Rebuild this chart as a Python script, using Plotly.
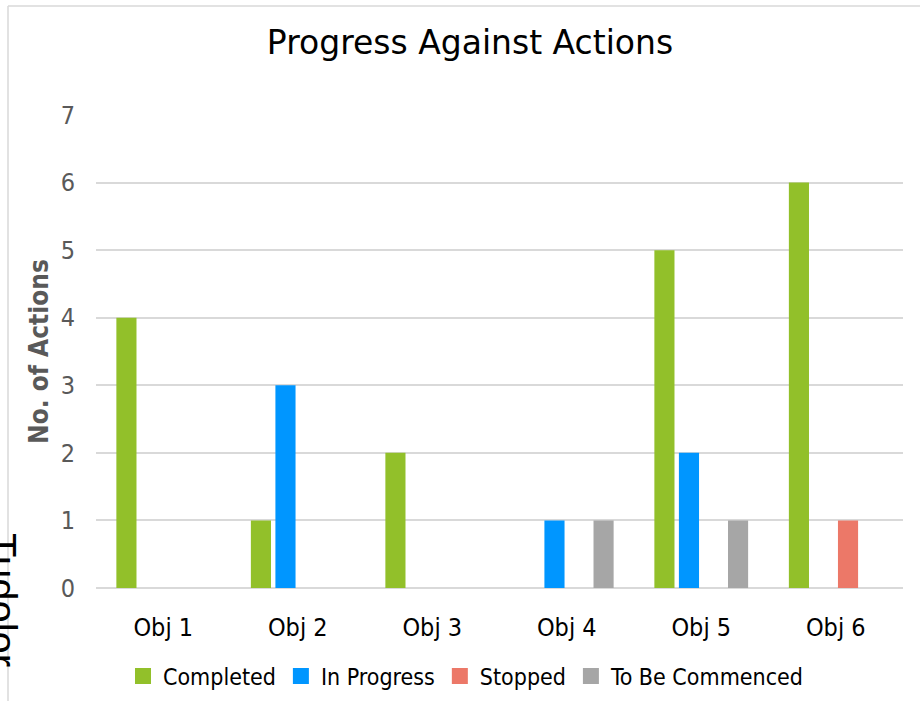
import plotly.graph_objects as go

categories = ["Obj 1", "Obj 2", "Obj 3", "Obj 4", "Obj 5", "Obj 6"]
completed = [4, 1, 2, 0, 5, 6]
in_progress = [0, 3, 0, 1, 2, 0]
stopped = [0, 0, 0, 0, 0, 1]
to_be_commenced = [0, 0, 0, 1, 1, 0]
y_ticks = [0, 1, 2, 3, 4, 5, 6, 7]

series = [
    ("Completed", completed, "#92C02A"),
    ("In Progress", in_progress, "#0096FF"),
    ("Stopped", stopped, "#EC7868"),
    ("To Be Commenced", to_be_commenced, "#A6A6A6"),
]

W, H = 920, 701
L, R, T, B = 96, 17, 115, 113
PW, PH = W - L - R, H - T - B
COND = "DejaVu Sans Condensed, DejaVu Sans"

def px(x):
    return (x - L) / PW

def py(y):
    return (H - B - y) / PH

fig = go.Figure()
for name, vals, color in series:
    fig.add_trace(go.Bar(x=categories, y=vals, name=name, marker_color=color,
                         marker_line_width=0, showlegend=False, legendgroup=name))
# legend entries (square swatches)
for name, vals, color in series:
    fig.add_trace(go.Scatter(x=[None], y=[None], mode="markers", name=name,
                             legendgroup=name,
                             marker=dict(symbol="square", size=16, color=color)))

fig.update_layout(
    width=W, height=H,
    margin=dict(l=L, r=R, t=T, b=B, autoexpand=False),
    paper_bgcolor="white", plot_bgcolor="white",
    barmode="group", bargap=0.27, bargroupgap=0.18,
    font=dict(family=COND, color="#000000"),
    title=dict(text="Progress Against Actions", x=470 / W, xanchor="center",
               y=1 - 42 / H, yanchor="middle",
               font=dict(size=33, color="#000000", family="DejaVu Sans")),
    showlegend=True,
    legend=dict(orientation="h", x=px(466), xanchor="center", xref="paper",
                y=py(676), yanchor="middle",
                font=dict(size=23, color="#000000", family=COND),
                itemwidth=30, traceorder="normal"),
    xaxis=dict(showgrid=False, showline=False, ticks="", automargin=False,
               tickfont=dict(size=25, color="#000000", family=COND),
               ticklabelstandoff=22),
    yaxis=dict(range=[0, 7], tickvals=y_ticks, showgrid=True, gridcolor="#D9D9D9",
               gridwidth=1.5, zeroline=True, zerolinecolor="#D9D9D9", zerolinewidth=1.5,
               showline=False, ticks="", automargin=False,
               tickfont=dict(size=25, color="#595959", family=COND),
               ticklabelstandoff=20,
               title=dict(text="<b>No. of Actions</b>", standoff=4,
                          font=dict(size=26, color="#595959", family=COND))),
)

# outer border (chart area edges)
fig.add_shape(type="line", xref="paper", yref="paper", x0=px(8), x1=px(8),
              y0=py(6), y1=py(H + 5), line=dict(color="#D9D9D9", width=1.5))
fig.add_shape(type="line", xref="paper", yref="paper", x0=px(8), x1=px(W + 5),
              y0=py(6), y1=py(6), line=dict(color="#D9D9D9", width=1.5))

# partially visible rotated text at the left edge
fig.add_annotation(text="Tudolor", textangle=90, xref="paper", yref="paper",
                   x=px(26), y=py(531), xanchor="right", yanchor="top",
                   showarrow=False, font=dict(size=40, color="#000000",
                                              family="Liberation Sans"))

fig.write_html("out.html")
